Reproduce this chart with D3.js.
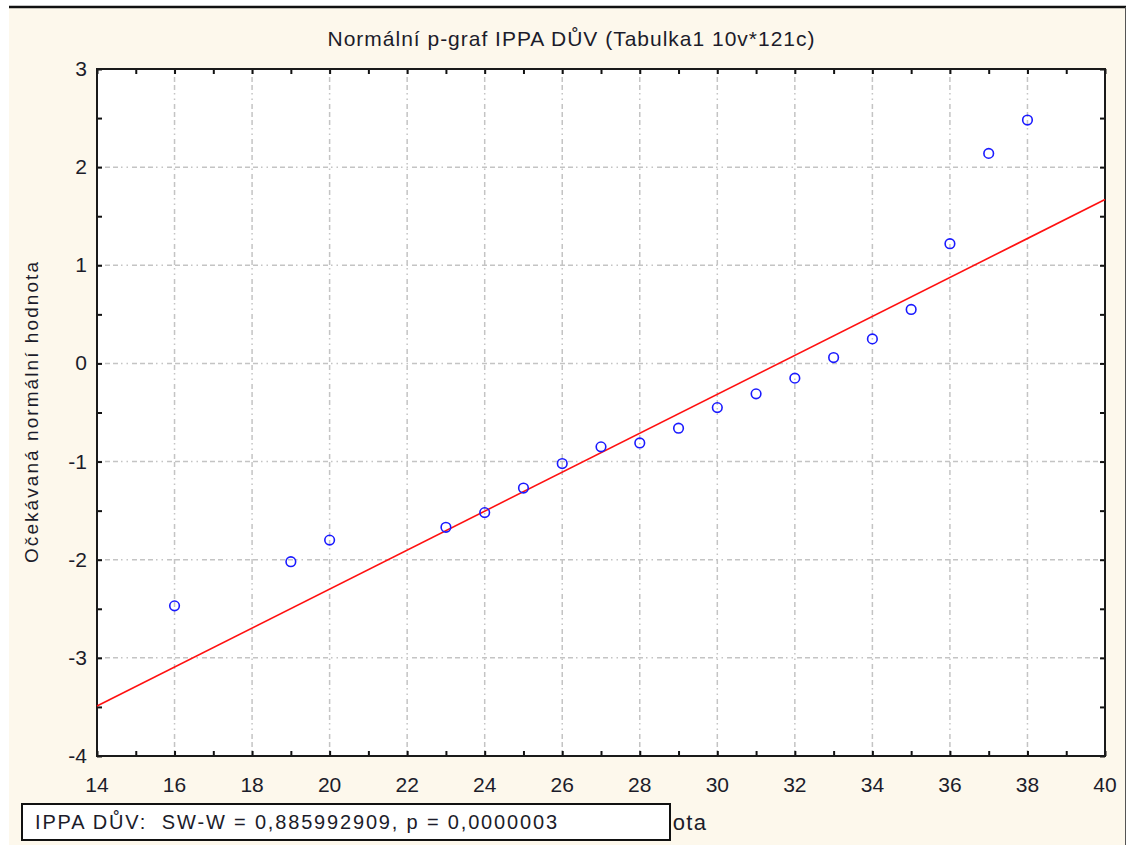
<!DOCTYPE html>
<html>
<head>
<meta charset="utf-8">
<script src="https://cdnjs.cloudflare.com/ajax/libs/d3/7.8.5/d3.min.js"></script>
<style>
  body { margin: 0; background: #fff; }
  text { font-family: "Liberation Sans", Arial, sans-serif; fill: #1c1c2a; }
</style>
</head>
<body>
<div id="chart"></div>
<script>
  // observed values (x) and expected normal values (y)
  var observed = [16, 19, 20, 23, 24, 25, 26, 27, 28, 29, 30, 31, 32, 33, 34, 35, 36, 37, 38];
  var expected = [-2.47, -2.02, -1.80, -1.67, -1.52, -1.27, -1.02, -0.85, -0.81, -0.66,
                  -0.45, -0.31, -0.15, 0.06, 0.25, 0.55, 1.22, 2.14, 2.48];
  // fitted line end points
  var fitX = [14, 40];
  var fitY = [-3.49, 1.67];
  var xTicks = [14, 16, 18, 20, 22, 24, 26, 28, 30, 32, 34, 36, 38, 40];
  var yTicks = [-4, -3, -2, -1, 0, 1, 2, 3];

  var W = 1135, H = 845;
  var pL = 97, pR = 1105, pT = 69, pB = 756;

  var svg = d3.select("#chart").append("svg")
      .attr("width", W).attr("height", H);

  // panel background
  svg.append("rect").attr("x", 9).attr("y", 7).attr("width", 1117).attr("height", 840)
     .attr("fill", "#fdf8ec");
  svg.append("line").attr("x1", 9).attr("x2", 1126).attr("y1", 7).attr("y2", 7)
     .attr("stroke", "#111").attr("stroke-width", 2.5);
  svg.append("line").attr("x1", 1125.5).attr("x2", 1125.5).attr("y1", 7).attr("y2", 845)
     .attr("stroke", "#555").attr("stroke-width", 1);

  var x = d3.scaleLinear().domain([14, 40]).range([pL, pR]);
  var y = d3.scaleLinear().domain([-4, 3]).range([pB, pT]);

  svg.append("rect").attr("x", pL).attr("y", pT)
     .attr("width", pR - pL).attr("height", pB - pT).attr("fill", "#fff");

  // grid
  var grid = svg.append("g").attr("stroke", "#c4c4c4").attr("stroke-width", 1.5)
      .attr("stroke-dasharray", "5,3,5,3,5,3,1.5,4,1.5,4");
  grid.selectAll(".gx").data(xTicks.slice(1, -1)).enter().append("line")
      .attr("x1", d => x(d)).attr("x2", d => x(d)).attr("y1", pT).attr("y2", pB);
  grid.selectAll(".gy").data(yTicks.slice(1, -1)).enter().append("line")
      .attr("y1", d => y(d)).attr("y2", d => y(d)).attr("x1", pL).attr("x2", pR);

  // axes with inward ticks
  var xMinor = d3.range(14, 40.01, 1);
  var yMinor = d3.range(-4, 3.01, 0.5);
  svg.append("g").attr("transform", "translate(0," + pB + ")")
     .call(d3.axisTop(x).tickValues(xMinor).tickSize(5).tickFormat(""))
     .call(g => g.select(".domain").remove());
  svg.append("g").attr("transform", "translate(0," + pT + ")")
     .call(d3.axisBottom(x).tickValues(xMinor).tickSize(5).tickFormat(""))
     .call(g => g.select(".domain").remove());
  svg.append("g").attr("transform", "translate(" + pL + ",0)")
     .call(d3.axisRight(y).tickValues(yMinor).tickSize(5).tickFormat(""))
     .call(g => g.select(".domain").remove());
  svg.append("g").attr("transform", "translate(" + pR + ",0)")
     .call(d3.axisLeft(y).tickValues(yMinor).tickSize(5).tickFormat(""))
     .call(g => g.select(".domain").remove());
  svg.selectAll(".tick line").attr("stroke", "#111").attr("stroke-width", 2);

  svg.append("rect").attr("x", pL).attr("y", pT)
     .attr("width", pR - pL).attr("height", pB - pT)
     .attr("fill", "none").attr("stroke", "#1a1a1a").attr("stroke-width", 2);

  // tick labels
  svg.selectAll(".xl").data(xTicks).enter().append("text")
     .attr("x", d => x(d)).attr("y", 792).attr("text-anchor", "middle")
     .attr("font-size", 21).text(d => d);
  svg.selectAll(".yl").data(yTicks).enter().append("text")
     .attr("x", 87).attr("y", d => y(d) + 7).attr("text-anchor", "end")
     .attr("font-size", 21).text(d => d);

  // fitted line
  svg.append("line")
     .attr("x1", x(fitX[0])).attr("y1", y(fitY[0]))
     .attr("x2", x(fitX[1])).attr("y2", y(fitY[1]))
     .attr("stroke", "#ff1010").attr("stroke-width", 1.6);

  // points
  svg.selectAll(".pt").data(observed).enter().append("circle")
     .attr("cx", d => x(d)).attr("cy", (d, i) => y(expected[i]))
     .attr("r", 4.8).attr("fill", "none")
     .attr("stroke", "#1a1aff").attr("stroke-width", 1.6);

  // titles
  svg.append("text").attr("x", 571).attr("y", 46).attr("text-anchor", "middle")
     .attr("font-size", 21).attr("textLength", 487).attr("lengthAdjust", "spacing")
     .text("Normální p-graf IPPA DŮV (Tabulka1 10v*121c)");
  svg.append("text").attr("transform", "translate(38," + ((pT + pB) / 2) + ") rotate(-90)")
     .attr("text-anchor", "middle").attr("font-size", 19)
     .attr("textLength", 301).attr("lengthAdjust", "spacing")
     .text("Očekávaná normální hodnota");
  // axis label, mostly hidden behind the statistics box as in the original
  svg.append("text").attr("x", 706).attr("y", 830).attr("text-anchor", "end")
     .attr("font-size", 22).attr("textLength", 226).attr("lengthAdjust", "spacing")
     .text("Pozorovaná hodnota");

  // statistics box
  svg.append("rect").attr("x", 22).attr("y", 804).attr("width", 648).attr("height", 36)
     .attr("fill", "#fff").attr("stroke", "#111").attr("stroke-width", 2);
  svg.append("text").attr("x", 35).attr("y", 829).attr("font-size", 20)
     .attr("xml:space", "preserve").attr("textLength", 522).attr("lengthAdjust", "spacing")
     .text("IPPA DŮV:  SW-W = 0,885992909, p = 0,0000003");
</script>
</body>
</html>
